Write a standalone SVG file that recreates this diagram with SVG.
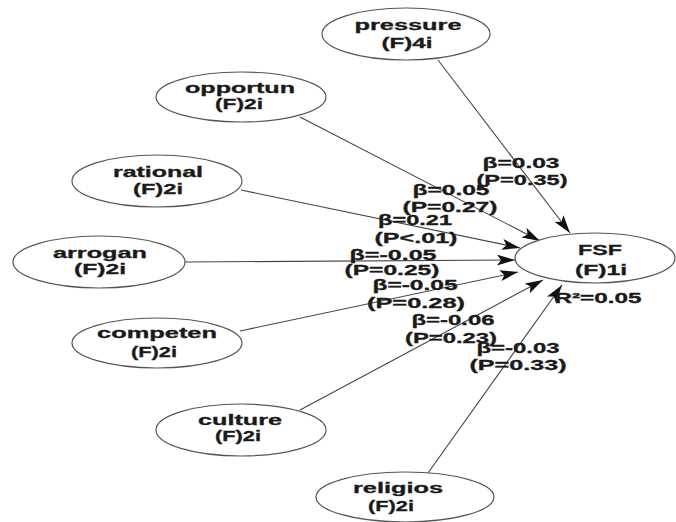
<svg xmlns="http://www.w3.org/2000/svg" width="676" height="522" viewBox="0 0 676 522">
<defs>
<style>
.bg{fill:#ffffff}
.node ellipse{fill:#ffffff;stroke:#555;stroke-width:1.2}
text{font-family:"Liberation Sans",Arial,sans-serif;font-weight:bold;font-size:14px;fill:#1a1a1a;stroke:#1a1a1a;stroke-width:0.3;text-anchor:middle}
.edge{stroke:#444;stroke-width:1.1;fill:none;marker-end:url(#arr)}
</style>
<marker id="arr" markerUnits="userSpaceOnUse" markerWidth="20" markerHeight="12" refX="18" refY="5.5" orient="auto">
<path d="M0,0 L18,5.5 L0,11 L4,5.5 z" fill="#111"/>
</marker>
</defs>
<rect class="bg" x="0" y="0" width="676" height="522"/>
<g id="connectors">
<line class="edge" x1="438" y1="60" x2="570" y2="233"/>
<line class="edge" x1="300" y1="117" x2="540" y2="241"/>
<line class="edge" x1="241" y1="190" x2="520" y2="248"/>
<line class="edge" x1="185" y1="262" x2="515" y2="260"/>
<line class="edge" x1="240" y1="331" x2="518" y2="272"/>
<line class="edge" x1="300" y1="410" x2="543" y2="280"/>
<line class="edge" x1="428" y1="473" x2="562" y2="285"/>
</g>
<g id="node-pressure" class="node">
<ellipse cx="406" cy="34" rx="84" ry="26"/>
<text x="408" y="30" textLength="107" lengthAdjust="spacingAndGlyphs">pressure</text>
<text x="407" y="48" textLength="51" lengthAdjust="spacingAndGlyphs">(F)4i</text>
</g>
<g id="node-opportun" class="node">
<ellipse cx="241" cy="97" rx="85" ry="25"/>
<text x="240" y="93" textLength="110" lengthAdjust="spacingAndGlyphs">opportun</text>
<text x="239" y="109" textLength="48" lengthAdjust="spacingAndGlyphs">(F)2i</text>
</g>
<g id="node-rational" class="node">
<ellipse cx="157" cy="181" rx="85" ry="26"/>
<text x="158" y="177" textLength="90" lengthAdjust="spacingAndGlyphs">rational</text>
<text x="158" y="194" textLength="50" lengthAdjust="spacingAndGlyphs">(F)2i</text>
</g>
<g id="node-arrogan" class="node">
<ellipse cx="99" cy="262" rx="86" ry="26"/>
<text x="100" y="258" textLength="94" lengthAdjust="spacingAndGlyphs">arrogan</text>
<text x="100" y="274" textLength="52" lengthAdjust="spacingAndGlyphs">(F)2i</text>
</g>
<g id="node-competen" class="node">
<ellipse cx="157" cy="343" rx="85" ry="25"/>
<text x="157" y="338" textLength="120" lengthAdjust="spacingAndGlyphs">competen</text>
<text x="154" y="357" textLength="46" lengthAdjust="spacingAndGlyphs">(F)2i</text>
</g>
<g id="node-culture" class="node">
<ellipse cx="241" cy="430" rx="85" ry="26"/>
<text x="240" y="425" textLength="84" lengthAdjust="spacingAndGlyphs">culture</text>
<text x="238" y="441" textLength="46" lengthAdjust="spacingAndGlyphs">(F)2i</text>
</g>
<g id="node-religios" class="node">
<ellipse cx="405" cy="497" rx="89" ry="25"/>
<text x="398" y="493" textLength="90" lengthAdjust="spacingAndGlyphs">religios</text>
<text x="391" y="511" textLength="46" lengthAdjust="spacingAndGlyphs">(F)2i</text>
</g>
<g id="node-FSF" class="node">
<ellipse cx="595" cy="258" rx="80" ry="25"/>
<text x="600" y="255" textLength="44" lengthAdjust="spacingAndGlyphs">FSF</text>
<text x="601" y="275" textLength="52" lengthAdjust="spacingAndGlyphs">(F)1i</text>
<text x="598" y="303" textLength="87" lengthAdjust="spacingAndGlyphs">R²=0.05</text>
</g>
<g id="edge-labels">
<text x="521" y="168" textLength="77" lengthAdjust="spacingAndGlyphs">β=0.03</text>
<text x="522" y="185" textLength="91" lengthAdjust="spacingAndGlyphs">(P=0.35)</text>
<text x="451" y="195" textLength="77" lengthAdjust="spacingAndGlyphs">β=0.05</text>
<text x="450" y="212" textLength="95" lengthAdjust="spacingAndGlyphs">(P=0.27)</text>
<text x="415" y="225" textLength="74" lengthAdjust="spacingAndGlyphs">β=0.21</text>
<text x="416" y="243" textLength="83" lengthAdjust="spacingAndGlyphs">(P&lt;.01)</text>
<text x="393" y="260" textLength="87" lengthAdjust="spacingAndGlyphs">β=-0.05</text>
<text x="392" y="275" textLength="95" lengthAdjust="spacingAndGlyphs">(P=0.25)</text>
<text x="415" y="290" textLength="85" lengthAdjust="spacingAndGlyphs">β=-0.05</text>
<text x="416" y="308" textLength="98" lengthAdjust="spacingAndGlyphs">(P=0.28)</text>
<text x="453" y="325" textLength="83" lengthAdjust="spacingAndGlyphs">β=-0.06</text>
<text x="451" y="343" textLength="92" lengthAdjust="spacingAndGlyphs">(P=0.23)</text>
<text x="518" y="353" textLength="83" lengthAdjust="spacingAndGlyphs">β=-0.03</text>
<text x="518" y="370" textLength="97" lengthAdjust="spacingAndGlyphs">(P=0.33)</text>
</g>
</svg>
